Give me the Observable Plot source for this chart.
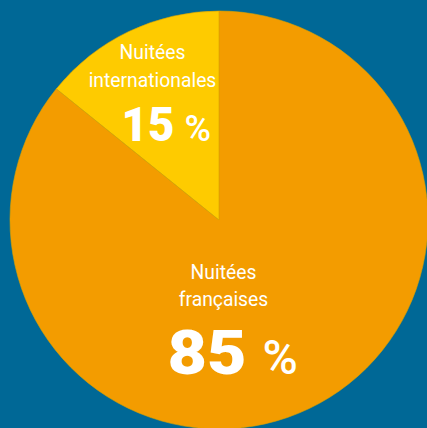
<!DOCTYPE html>
<html>
<head>
<meta charset="utf-8">
<script src="https://cdn.jsdelivr.net/npm/d3@7"></script>
<script src="https://cdn.jsdelivr.net/npm/@observablehq/plot@0.6"></script>
<style>
  html, body { margin: 0; padding: 0; background: #006896; }
  #chart svg { display: block; }
</style>
</head>
<body>
<div id="chart"></div>
<script>
// ---- data ----
const categories = ["Nuitées françaises", "Nuitées internationales"];
const shares = [85.8, 14.2];            // slice sizes as drawn in the picture
const nameLines = [["Nuitées", "françaises"], ["Nuitées", "internationales"]];
const valueLabels = ["85", "15"];
const unitLabel = "%";

// ---- layout / style (pixel frame) ----
const W = 427, H = 428;
const colors = ["#f39c00", "#fecb00"];
const pie = { cx: 219, cy: 220, r: 209 };
const labelLayout = [
  { nameX: 223, nameY: [278, 305], nameSize: 21, numX: 167, numY: 373, numSize: 62, numStretch: 1.1, pctX: 262, pctSize: 48 },
  { nameX: 152, nameY: [58, 86], nameSize: 21, numX: 121, numY: 140, numSize: 48, numStretch: 0.95, pctX: 184, pctSize: 36 }
];
const nameStretch = 0.92;   // condensed look

const slices = d3.pie().sort(null).value(d => d.share)(
  categories.map((c, i) => ({ category: c, share: shares[i], color: colors[i] }))
);

const nameRows = [];
const numRows = [];
categories.forEach((c, i) => {
  const L = labelLayout[i];
  nameLines[i].forEach((t, j) => nameRows.push({ text: t, x: L.nameX, y: L.nameY[j], size: L.nameSize }));
  numRows.push({ text: valueLabels[i], x: L.numX, y: L.numY, size: L.numSize, pctX: L.pctX, pctSize: L.pctSize });
});

function pieMark(index, scales) {
  const sx = scales.x, sy = scales.y;
  const cx = sx(pie.cx), cy = sy(pie.cy);
  const R = sx(pie.cx + pie.r) - cx;
  const arc = d3.arc().innerRadius(0).outerRadius(R);
  const g = d3.create("svg:g").attr("transform", `translate(${cx},${cy})`);
  g.selectAll("path").data(slices).join("path")
    .attr("d", arc)
    .attr("fill", d => d.data.color)
    .attr("stroke", "#d9a200")
    .attr("stroke-width", 0.6);
  return g.node();
}

const chart = Plot.plot({
  width: W,
  height: H,
  margin: 0,
  style: { background: "#006896", fontFamily: "Roboto, sans-serif", overflow: "visible" },
  x: { domain: [0, W], range: [0, W], axis: null },
  y: { domain: [0, H], range: [0, H], axis: null },
  marks: [
    pieMark,
    Plot.text(nameRows, {
      x: "x", y: "y", text: "text", fontSize: d => d.size,
      fill: "white", lineAnchor: "bottom", textAnchor: "middle",
      fontFamily: "Roboto", fontWeight: 400
    }),
    Plot.text(numRows, {
      x: "x", y: "y", text: "text", fontSize: d => d.size,
      fill: "white", lineAnchor: "bottom", textAnchor: "start",
      fontFamily: "Roboto", fontWeight: 900
    }),
    Plot.text(numRows, {
      x: "pctX", y: "y", text: () => unitLabel, fontSize: d => d.pctSize,
      fill: "white", lineAnchor: "bottom", textAnchor: "start",
      fontFamily: "Roboto", fontWeight: 500
    })
  ]
});

// horizontal stretch of the text glyphs
function stretch(group, sOf) {
  d3.select(group).selectAll("text").each(function (_, i) {
    const s = sOf(i);
    const t = this.getAttribute("transform");
    if (t) {
      this.setAttribute("transform", `${t} scale(${s},1)`);
    } else {
      const x = +this.getAttribute("x") || 0, y = +this.getAttribute("y") || 0;
      this.removeAttribute("x"); this.removeAttribute("y");
      this.setAttribute("transform", `translate(${x},${y}) scale(${s},1)`);
    }
  });
}
const textGroups = chart.querySelectorAll("g[aria-label='text']");
if (textGroups[0]) stretch(textGroups[0], () => nameStretch);
if (textGroups[1]) stretch(textGroups[1], i => labelLayout[i].numStretch);

document.getElementById("chart").append(chart);
</script>
</body>
</html>
